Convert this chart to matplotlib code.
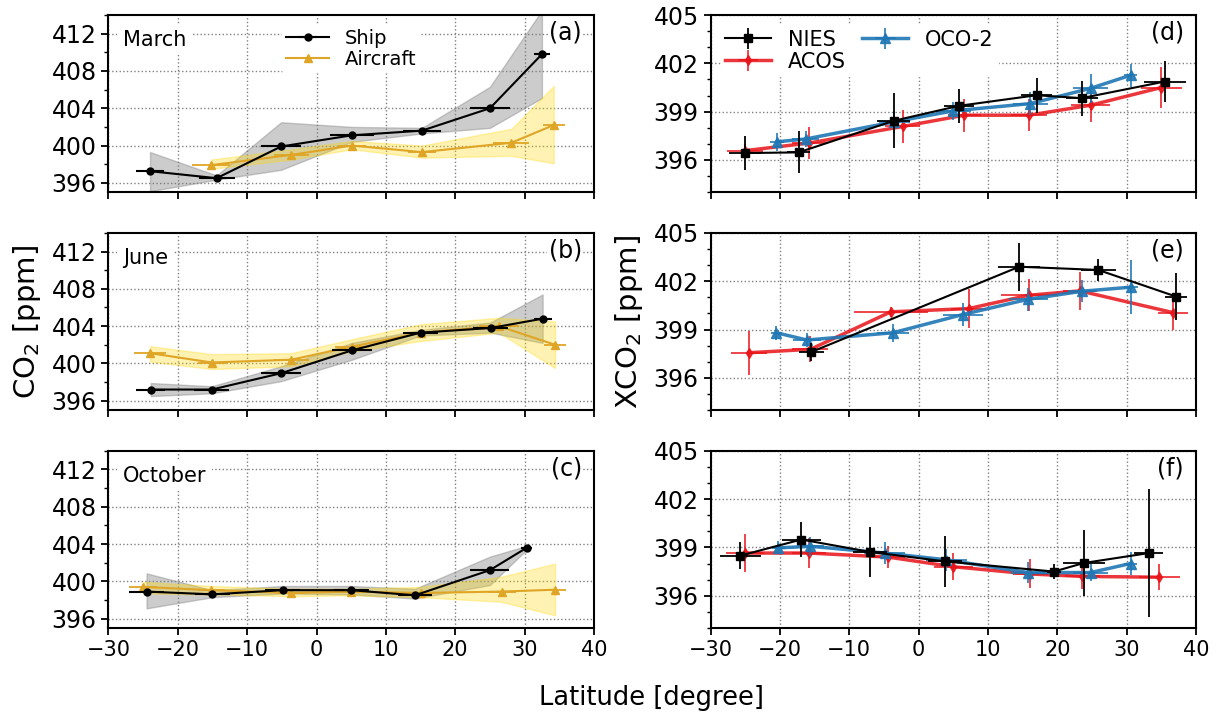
import numpy as np
import matplotlib
matplotlib.use("Agg")
from matplotlib import pyplot as plt
from matplotlib.ticker import MultipleLocator

# ---- ship / aircraft (left column) ----
ship_lat = {
    'mar': [-24.0, -14.4, -5.1, 5.1, 15.2, 25.0, 32.5],
    'jun': [-23.9, -15.1, -5.1, 5.1, 15.0, 25.1, 32.6],
    'oct': [-24.5, -15.0, -4.9, 5.0, 14.2, 25.0, 30.3],
}
ship_co2 = {
    'mar': [397.25, 396.5, 399.9, 401.1, 401.6, 404.0, 409.8],
    'jun': [397.2, 397.2, 398.95, 401.4, 403.3, 403.8, 404.8],
    'oct': [398.9, 398.6, 399.05, 399.05, 398.5, 401.2, 403.6],
}
ship_lo = {
    'mar': [395.1, 396.35, 397.4, 400.4, 401.3, 401.9, 405.1],
    'jun': [396.5, 396.8, 398.1, 400.4, 403.0, 403.3, 402.2],
    'oct': [397.1, 398.3, 398.7, 398.6, 398.15, 399.6, 403.4],
}
ship_hi = {
    'mar': [399.3, 396.8, 402.5, 402.0, 401.9, 406.3, 414.5],
    'jun': [397.9, 397.55, 399.7, 402.2, 403.6, 404.4, 407.4],
    'oct': [400.85, 399.05, 399.5, 399.5, 399.2, 402.65, 403.8],
}
ship_xerr = {
    'mar': [2.0, 2.6, 2.9, 3.2, 2.8, 2.9, 1.2],
    'jun': [2.1, 2.5, 2.9, 2.9, 2.5, 2.5, 1.3],
    'oct': [2.5, 2.5, 2.5, 2.5, 2.5, 2.8, 0.8],
}

air_lat = {
    'mar': [-15.2, -3.65, 5.1, 15.2, 28.1, 34.2],
    'jun': [-24.0, -15.1, -3.65, 5.1, 15.0, 26.3, 34.4],
    'oct': [-25.0, -15.15, -3.65, 5.0, 15.0, 26.7, 34.4],
}
air_co2 = {
    'mar': [397.9, 399.0, 400.0, 399.3, 400.3, 402.2],
    'jun': [401.1, 400.1, 400.4, 401.8, 403.3, 404.0, 402.0],
    'oct': [399.4, 399.05, 398.75, 398.9, 398.75, 398.9, 399.1],
}
air_lo = {
    'mar': [397.5, 398.5, 399.6, 398.7, 398.9, 398.1],
    'jun': [400.2, 399.4, 399.7, 401.3, 402.4, 403.3, 399.5],
    'oct': [398.7, 398.6, 398.4, 398.5, 398.3, 397.8, 396.35],
}
air_hi = {
    'mar': [398.5, 399.6, 400.5, 400.0, 401.8, 406.4],
    'jun': [401.85, 401.0, 401.1, 402.6, 404.2, 404.9, 404.5],
    'oct': [399.95, 399.5, 399.2, 399.2, 399.4, 400.5, 401.9],
}
air_xerr = {
    'mar': [2.7, 2.5, 2.0, 2.0, 2.6, 1.6],
    'jun': [2.3, 2.0, 2.5, 2.5, 2.5, 2.9, 1.6],
    'oct': [2.0, 2.0, 2.0, 2.0, 2.0, 2.0, 1.6],
}

# ---- satellites (right column) ----
nies_lat = {
    'mar': [-25.0, -17.3, -3.6, 5.8, 17.0, 23.5, 35.5],
    'jun': [-15.5, 14.5, 25.9, 37.1],
    'oct': [-25.7, -16.9, -7.0, 3.8, 19.5, 23.8, 33.2],
}
nies_xco2 = {
    'mar': [396.43, 396.47, 398.43, 399.36, 400.02, 399.84, 400.87],
    'jun': [397.6, 402.9, 402.7, 401.05],
    'oct': [398.49, 399.49, 398.72, 398.13, 397.5, 398.03, 398.65],
}
nies_yerr = {
    'mar': [1.07, 1.3, 1.7, 1.06, 1.1, 1.09, 1.3],
    'jun': [0.55, 1.5, 0.7, 1.45],
    'oct': [0.84, 1.1, 1.57, 1.6, 0.48, 2.05, 4.0],
}
nies_xerr = {
    'mar': [2.3, 1.7, 2.4, 2.2, 2.2, 2.3, 3.0],
    'jun': [1.8, 3.0, 2.5, 1.6],
    'oct': [3.0, 2.8, 2.5, 2.5, 1.0, 3.0, 2.1],
}

acos_lat = {
    'mar': [-25.0, -15.8, -2.3, 6.6, 15.9, 24.8, 35.0],
    'jun': [-24.5, -15.6, -4.0, 7.2, 15.9, 23.25, 36.7],
    'oct': [-25.0, -15.8, -4.4, 5.0, 16.1, 23.6, 34.7],
}
acos_xco2 = {
    'mar': [396.58, 397.05, 398.08, 398.78, 398.78, 399.4, 400.5],
    'jun': [397.56, 397.77, 400.1, 400.3, 401.13, 401.4, 400.05],
    'oct': [398.65, 398.65, 398.4, 397.8, 397.35, 397.2, 397.15],
}
acos_yerr = {
    'mar': [0.4, 1.0, 1.03, 1.03, 1.0, 1.03, 1.3],
    'jun': [1.37, 0.8, 0.3, 1.2, 1.0, 1.2, 1.1],
    'oct': [1.2, 0.95, 0.7, 0.85, 0.9, 0.8, 0.8],
}
acos_xerr = {
    'mar': [2.6, 2.5, 2.5, 2.4, 2.6, 2.8, 2.9],
    'jun': [2.6, 2.6, 5.3, 2.5, 4.0, 2.5, 2.2],
    'oct': [2.7, 2.5, 2.5, 2.8, 2.5, 2.5, 3.0],
}

oco_lat = {
    'mar': [-20.4, -16.3, -3.5, 5.0, 16.1, 24.8, 30.55],
    'jun': [-20.5, -16.1, -3.7, 6.35, 15.8, 23.6, 30.6],
    'oct': [-20.2, -15.6, -4.9, 4.0, 15.8, 24.8, 30.55],
}
oco_xco2 = {
    'mar': [397.13, 397.3, 398.37, 399.05, 399.5, 400.45, 401.26],
    'jun': [398.8, 398.35, 398.8, 399.93, 400.88, 401.38, 401.63],
    'oct': [398.97, 399.07, 398.65, 398.23, 397.44, 397.44, 398.0],
}
oco_yerr = {
    'mar': [0.55, 0.5, 0.7, 0.55, 0.7, 0.9, 0.7],
    'jun': [0.45, 0.45, 0.55, 0.7, 0.7, 0.7, 1.66],
    'oct': [0.4, 0.6, 0.7, 0.7, 0.65, 0.5, 0.7],
}
oco_xerr = {
    'mar': [1.0, 2.0, 2.2, 2.5, 2.5, 2.5, 1.0],
    'jun': [0.8, 2.0, 2.3, 2.9, 2.8, 2.0, 1.0],
    'oct': [1.0, 2.0, 3.0, 3.0, 2.5, 2.5, 1.0],
}

months = ['mar', 'jun', 'oct']
month_names = ['March', 'June', 'October']
left_tags = ['(a)', '(b)', '(c)']
right_tags = ['(d)', '(e)', '(f)']

gold = '#dfa526'

fig, axes = plt.subplots(3, 2, figsize=(12.18, 7.16), dpi=100)
fig.subplots_adjust(left=0.089, right=0.982, top=0.979, bottom=0.123,
                    hspace=0.23, wspace=0.24)


def style_axis(ax, ymaj, ymin):
    ax.set_xlim(-30, 40)
    ax.xaxis.set_major_locator(MultipleLocator(10))
    ax.yaxis.set_major_locator(MultipleLocator(ymaj))
    ax.yaxis.set_minor_locator(MultipleLocator(ymin))
    ax.grid(True, which='major', linestyle=':', color='gray', linewidth=1)
    ax.set_axisbelow(True)
    ax.tick_params(which='major', direction='out', length=5, width=1.3, labelsize=15)
    ax.tick_params(axis='y', which='major', labelsize=17)
    ax.tick_params(which='minor', direction='out', length=3, width=1)
    for s in ax.spines.values():
        s.set_linewidth(1.5)


for i, m in enumerate(months):
    ax = axes[i, 0]
    ax.fill_between(ship_lat[m], ship_lo[m], ship_hi[m], color='gray', alpha=0.4, zorder=2)
    ax.errorbar(ship_lat[m], ship_co2[m], xerr=ship_xerr[m], color='k', marker='o',
                markersize=5, linewidth=1.5, elinewidth=1.5, label='Ship', zorder=4)
    ax.fill_between(air_lat[m], air_lo[m], air_hi[m], color='gold', alpha=0.3, zorder=2)
    ax.errorbar(air_lat[m], air_co2[m], xerr=air_xerr[m], color=gold, marker='^',
                markersize=6, linewidth=1.5, elinewidth=1.3, label='Aircraft', zorder=3)
    ax.set_ylim(395, 414)
    style_axis(ax, 4, 2)
    ax.text(0.03, 0.86, month_names[i], transform=ax.transAxes, fontsize=15,
            ha='left', va='center', zorder=5,
            bbox=dict(facecolor='white', edgecolor='none', pad=4))
    ax.text(0.975, 0.9, left_tags[i], transform=ax.transAxes, fontsize=17,
            ha='right', va='center', zorder=5,
            bbox=dict(facecolor='white', edgecolor='none', pad=1))
    if i == 0:
        ax.legend(loc='upper center', fontsize=14, frameon=True, framealpha=1,
                  edgecolor='white', handlelength=2.2, borderpad=0.2, labelspacing=0.1)
    if i < 2:
        ax.tick_params(labelbottom=False)

for i, m in enumerate(months):
    ax = axes[i, 1]
    ax.errorbar(nies_lat[m], nies_xco2[m], xerr=nies_xerr[m], yerr=nies_yerr[m],
                color='k', marker='s', markersize=6, linewidth=1.5, elinewidth=1.3,
                label='NIES', zorder=5)
    ax.errorbar(acos_lat[m], acos_xco2[m], xerr=acos_xerr[m], yerr=acos_yerr[m],
                color='#e8141a', marker='d', markersize=5, linewidth=2.5, elinewidth=1.3,
                alpha=0.85, label='ACOS', zorder=3)
    ax.errorbar(oco_lat[m], oco_xco2[m], xerr=oco_xerr[m], yerr=oco_yerr[m],
                color='#1f77b4', marker='^', markersize=7, linewidth=2.5, elinewidth=1.3,
                alpha=0.9, label='OCO-2', zorder=4)
    ax.set_ylim(394, 405)
    style_axis(ax, 3, 1)
    ax.text(0.975, 0.9, right_tags[i], transform=ax.transAxes, fontsize=17,
            ha='right', va='center', zorder=6)
    if i == 0:
        ax.legend(loc='upper left', ncol=2, fontsize=15, frameon=True, framealpha=1,
                  edgecolor='white', handlelength=2.2, borderpad=0.2, labelspacing=0.1,
                  columnspacing=0.8)
    if i < 2:
        ax.tick_params(labelbottom=False)

axes[1, 0].set_ylabel('CO$_2$ [ppm]', fontsize=21, labelpad=6)
axes[1, 1].set_ylabel('XCO$_2$ [ppm]', fontsize=21, labelpad=6)
fig.text(0.535, 0.025, 'Latitude [degree]', ha='center', va='center', fontsize=18.5)

fig.savefig('out.png', dpi=100)
